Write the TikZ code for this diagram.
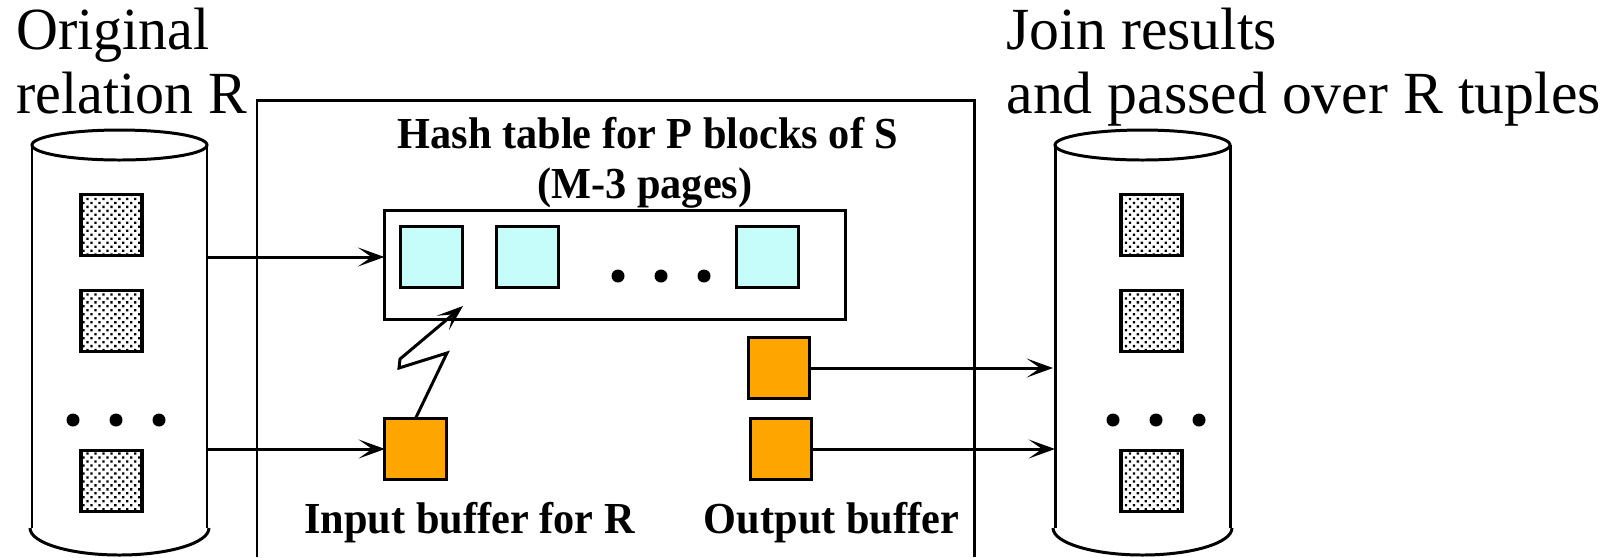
\documentclass[tikz,border=0pt]{standalone}
\usepackage{fontspec}
\newfontfamily\figfont[FakeStretch=0.955]{Liberation Serif}
\newfontfamily\bigfont{Liberation Serif}
\newfontfamily\narrowfont[FakeStretch=0.97]{Liberation Serif}
\usetikzlibrary{arrows.meta,patterns.meta,calc}
\definecolor{page-cyan}{RGB}{198,252,249}
\definecolor{page-orange}{RGB}{255,165,0}
\tikzstyle{every picture}=[line width=0.85pt]
\tikzstyle{block}=[draw,inner sep=0pt,outer sep=0pt,minimum size=0.61cm]
\tikzstyle{diskblock}=[block,line width=0.95pt,postaction={pattern={Dots[distance=1.6pt,radius=0.46pt,angle=45]}}]
\tikzstyle{hashblock}=[block,fill=page-cyan]
\tikzstyle{bufblock}=[block,fill=page-orange]
\tikzstyle{bigtext}=[inner sep=0pt,anchor=base west,font=\bigfont\fontsize{17}{20}\selectfont]
\tikzstyle{sidetext}=[inner sep=0pt,anchor=base west,font=\narrowfont\fontsize{17}{20}\selectfont]
\tikzstyle{boldtext}=[inner sep=0pt,anchor=base,font=\figfont\bfseries\fontsize{12.6}{15}\selectfont]
\tikzstyle{flow}=[-{Stealth[length=7.5pt,width=5.4pt,inset=3.8pt]}]
\newcommand{\drawdots}[2]{
  \foreach \i in {0,1,2} {
  \fill (#1+\i*43,#2) circle (6.5);
}
}
% Syntax: name prefix, left x of the body, centre x of the blocks
\newcommand{\drawdisk}[3]{
  \pgfmathsetmacro{\rightx}{#2+175}
  \pgfmathsetmacro{\midx}{#2+87.5}
  \draw (#2,145) -- (#2,528);
  \draw (\rightx,145) -- (\rightx,528);
  \draw (\midx,145) ellipse [x radius=87.5,y radius=15];
  \draw (#2-2,528) arc [start angle=180,end angle=0,x radius=89.5,y radius=27];
  \node[diskblock] (#1a) at (#3,225) {};
  \node[diskblock] (#1b) at (#3,321) {};
  \node[diskblock] (#1c) at (#3,481) {};
  \drawdots{#3-38.5}{420}
}
\begin{document}
\begin{tikzpicture}[x=0.01cm,y=-0.01cm]
	\useasboundingbox (0,0) rectangle (1612,557);
	% main memory box, runs off the bottom
	\draw (257,557) -- (257,100) -- (974,100) -- (974,557);
	% disks
	\drawdisk{rel}{32}{111.5}
	\drawdisk{res}{1055}{1151.5}
	\coordinate (relouta) at (207,257);
	\coordinate (reloutb) at (207,449);
	\coordinate (resina) at (1053,368);
	\coordinate (resinb) at (1055,449);
	% hash table
	\node[draw,inner sep=0pt,outer sep=0pt,minimum width=4.61cm,minimum height=1.09cm] (hash) at (615,265) {};
	\node[hashblock] (hasha) at (431.5,257) {};
	\node[hashblock] (hashb) at (527.5,257) {};
	\node[hashblock] (hashc) at (767.5,257) {};
	\drawdots{618}{276}
	% buffers
	\node[bufblock] (input) at (415.5,449) {};
	\node[bufblock] (outa) at (779,368) {};
	\node[bufblock] (outb) at (781,449) {};
	% arrows
	\draw[flow] (relouta) -- (hash.west |- relouta);
	\draw[flow] (reloutb) -- (input);
	\draw[flow] (outa) -- (resina);
	\draw[flow] (outb) -- (resinb);
	\coordinate (hit) at (463,306);
	\draw[flow,line join=miter] (input.north) -- (447,353) -- (399,368) -- (400,359) -- (hit);
	% labels
	\node[sidetext] (origa) at (15,49) {Original};
	\node[sidetext] (origb) at (15,113) {relation R};
	\node[bigtext] (joina) at (1005,49) {Join results};
	\node[bigtext] (joinb) at (1005,113) {and passed over R tuples};
	\node[boldtext] (hashtitle) at (648,148) {Hash table for P blocks of S};
	\node[boldtext] (hashpages) at (645,198) {(M-3 pages)};
	\node[boldtext] (inputname) at (469.5,533) {Input buffer for R};
	\node[boldtext] (outputname) at (831.5,533) {Output buffer};
\end{tikzpicture}
\end{document}
